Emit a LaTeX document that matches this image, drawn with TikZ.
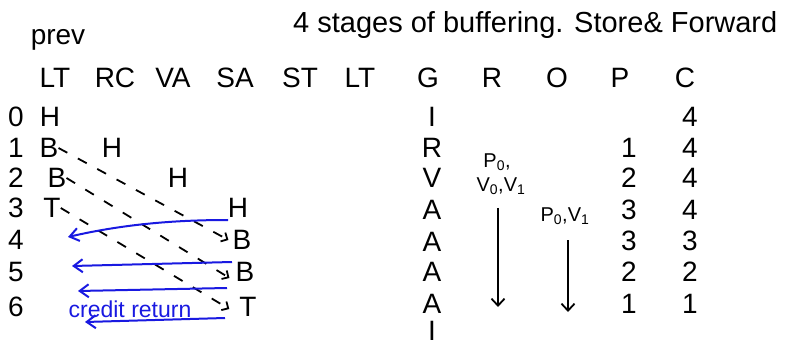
\documentclass[tikz,border=0pt]{standalone}
\usepackage{fontspec}
\setmainfont{Liberation Sans}
\usetikzlibrary{arrows.meta}
\definecolor{pen}{RGB}{25,25,225}
\begin{document}
\begin{tikzpicture}[x=1pt,y=-1pt,
  lbl/.style={font=\fontsize{28}{32}\selectfont, inner sep=0pt, anchor=center},
  sm/.style={font=\fontsize{20}{22}\selectfont, inner sep=0pt, anchor=center},
  dashlink/.style={line width=1.8pt, dash pattern=on 10pt off 12pt, -{Straight Barb[length=5pt,width=10pt]}},
  credit/.style={draw=pen, line width=2pt, -{Straight Barb[length=9pt,width=13pt]}},
  downarr/.style={line width=1.8pt, -{Straight Barb[length=7pt,width=13pt]}}]
\useasboundingbox (0,0) rectangle (786,347);
% title
\node[lbl, anchor=west, font=\fontsize{29}{32}\selectfont] (title) at (293,25) {4 stages of buffering. Store\& Forward};
\node[lbl] (prev) at (58,40) {prev};
% headers
\foreach \n/\x/\t in {hLT/55/LT, hRC/115/RC, hVA/173/VA, hSA/235/SA, hST/300/ST, hLTb/360/LT,
  hG/428/G, hR/492/R, hO/557/O, hP/620/P, hC/685/C}
  \node[lbl] (\n) at (\x,78) {\t};
% row numbers
\foreach \n/\y/\t in {r0/117/0, r1/148/1, r2/178/2, r3/208/3, r4/240/4, r5/272/5, r6/307/6}
  \node[lbl] (\n) at (16,\y) {\t};
% LT column
\node[lbl] (h0) at (50,117) {H};
\node[lbl] (b1) at (49,148) {B};
\node[lbl] (b2) at (57,178) {B};
\node[lbl] (t3) at (52,208) {T};
% diagonal H
\node[lbl] (h1) at (112,148) {H};
\node[lbl] (h2) at (178,178) {H};
\node[lbl] (h3) at (238,208) {H};
\node[lbl] (b4) at (242,240) {B};
\node[lbl] (b5) at (245,272) {B};
\node[lbl] (t6) at (248,307) {T};
% G column
\foreach \n/\y/\t in {g0/117/I, g1/148/R, g2/178/V, g3/210/A, g4/242/A, g5/272/A, g6/304/A, g7/331/I}
  \node[lbl] (\n) at (432,\y) {\t};
% P column
\foreach \n/\y/\t in {p1/148/1, p2/178/2, p3/210/3, p4/241/3, p5/272/2, p6/304/1}
  \node[lbl] (\n) at (629,\y) {\t};
% C column
\foreach \n/\y/\t in {c0/117/4, c1/148/4, c2/178/4, c3/210/4, c4/241/3, c5/272/2, c6/304/1}
  \node[lbl] (\n) at (690,\y) {\t};
% R and O column notes
\node[sm] (rn1) at (497,162) {P\textsubscript{0},};
\node[sm] (rn2) at (501,186) {V\textsubscript{0},V\textsubscript{1}};
\node[sm] (on1) at (565,216) {P\textsubscript{0},V\textsubscript{1}};
\coordinate (rtop) at (498,208);
\coordinate (rbot) at (498,307);
\coordinate (otop) at (568,240);
\coordinate (obot) at (568,312);
\draw[downarr] (rtop) -- (rbot);
\draw[downarr] (otop) -- (obot);
% dashed links
\draw[dashlink] (b1.east) -- ([xshift=-4pt]b4.west);
\draw[dashlink] (b2.east) -- ([xshift=-6pt,yshift=-6pt]b5.west);
\draw[dashlink] (t3.east) -- ([xshift=-10pt,yshift=-2pt]t6.west);
% credit return arrows
\coordinate (k1) at (68,237);
\coordinate (k2) at (72,266);
\coordinate (k3) at (78,291);
\coordinate (k4) at (85,322);
\coordinate (s1) at (228,220);
\coordinate (s2) at (232,262);
\coordinate (s3) at (227,288);
\coordinate (s4) at (225,318);
\draw[credit] (s1) .. controls (170,220) and (120,225) .. (k1);
\draw[credit] (s2) -- (k2);
\draw[credit] (s3) -- (k3);
\draw[credit] (s4) -- (k4);
\node[sm, text=pen, font=\fontsize{23}{26}\selectfont] (cr) at (130,309) {credit return};
\end{tikzpicture}
\end{document}
